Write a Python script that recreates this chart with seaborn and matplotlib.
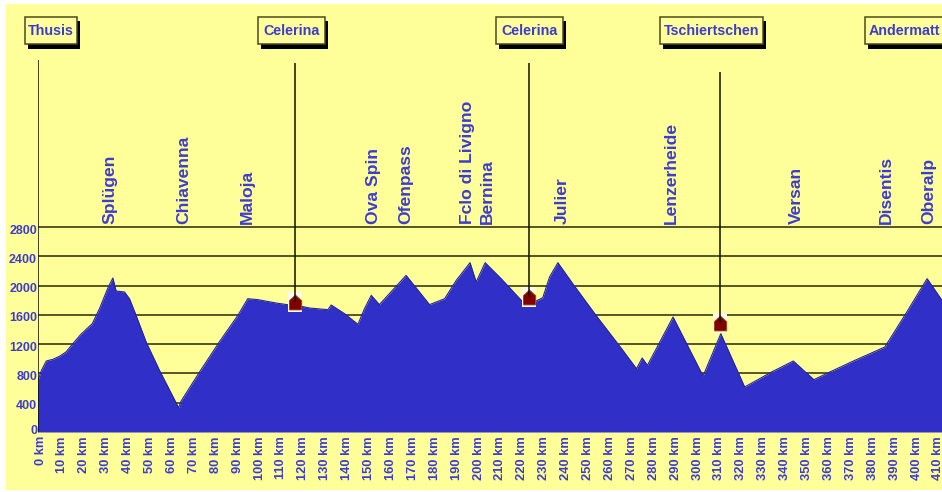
import numpy as np
import pandas as pd
import seaborn as sns
import matplotlib
matplotlib.use('Agg')
import matplotlib.pyplot as plt
from matplotlib.patches import Rectangle
from matplotlib.transforms import Affine2D

# profilo altimetrico
km = [0, 1.8, 4, 7, 10, 13, 16.8, 19.8, 25, 28.3, 32, 34.4, 35.9, 39.7, 42, 45, 49.6, 55.7, 60, 64.4,
      65.6, 74, 83, 91.5, 96, 100.6, 109, 114, 120.5, 124.2, 132.6, 134.1, 140.2, 146.3, 149.3, 152.4,
      156.1, 168.3, 179, 185.9, 191.2, 197.5, 200.3, 204.4, 211.7, 220.9, 224.2, 227.7, 230.7, 233.8,
      237.6, 244.4, 255, 266.7, 273.5, 276.1, 278.5, 290.2, 303.9, 312, 322.9, 335.2, 345.1, 354.5,
      361.8, 373.2, 386.9, 396, 406.2, 413]
quota = [683, 842, 970, 993, 1034, 1093, 1230, 1334, 1480, 1685, 1958, 2104, 1926, 1913, 1821, 1594, 1230, 842, 592, 332,
         424, 820, 1230, 1594, 1821, 1808, 1762, 1740, 1717, 1694, 1671, 1735, 1617, 1471, 1685, 1867,
         1740, 2140, 1740, 1821, 2072, 2313, 2049, 2313, 2095, 1799, 1770, 1790, 1835, 2117,
         2313, 2026, 1594, 1138, 865, 1011, 911, 1571, 765, 1343, 615, 820, 970, 715,
         820, 979, 1161, 1594, 2095, 1799]

passi = ['Splügen', 'Chiavenna', 'Maloja', 'Ova Spin', 'Ofenpass', 'Fclo di Livigno', 'Bernina',
         'Julier', 'Lenzerheide', 'Versan', 'Disentis', 'Oberalp']
passi_km = [33, 66.8, 96, 153.5, 168.2, 196.5, 205.6, 239.4, 289.6, 346.7, 387.8, 406.8]

tappe = ['Thusis', 'Celerina', 'Celerina', 'Tschiertschen', 'Andermatt']
tappe_km = [0, 117.6, 224.2, 311.8]
tappe_quota = [0, 1776, 1844, 1489]
tappe_top = [5082, 5041, 5041, 4918]

y_ticks = [0, 400, 800, 1200, 1600, 2000, 2400, 2800]
griglia = [400, 800, 1200, 1600, 2000, 2400, 2800]
x_ticks = list(range(0, 420, 10))
x_labels = [f'{k} km' for k in x_ticks]

BLU = '#3030c8'
TESTO = '#3c3cd0'
GIALLO = '#ffff99'
FONT = 'Liberation Sans'

sns.set_theme(style='white')

fig = plt.figure(figsize=(9.42, 4.92), dpi=100, facecolor='white')
# trasformazione in pixel con origine in alto a sinistra
px = Affine2D().scale(1, -1).translate(0, 492)

fig.patches.append(Rectangle((6, 4), 936, 486, transform=px, facecolor=GIALLO, edgecolor='none', zorder=-5))

ax = fig.add_axes([37.5 / 942, (492 - 432) / 492, (942 - 37.5) / 942, (432 - 57) / 492])
ax.patch.set_visible(False)
ax.set_xlim(0, 413)
ax.set_ylim(0, 5123)
sns.despine(ax=ax, left=True, bottom=True)

ax.hlines(griglia, 0, 413, color='#3a3a10', lw=1.2, zorder=1)

df = pd.DataFrame({'km': km, 'quota': quota})
ax.fill_between(df['km'], 0, df['quota'], color=BLU, lw=0, zorder=2)
sns.lineplot(data=df, x='km', y='quota', color='#24249c', lw=0.8, ax=ax, zorder=3, estimator=None, sort=False)

ax.set_xlabel('')
ax.set_ylabel('')

ax.set_xticks(x_ticks)
ax.set_xticklabels(x_labels, rotation=90, family=FONT, fontweight='bold', fontsize=9.3, color=TESTO)
ax.set_yticks(y_ticks)
ax.set_yticklabels(y_ticks, family=FONT, fontweight='bold', fontsize=9, color=TESTO)
ax.tick_params(axis='x', length=0, pad=3)
ax.tick_params(axis='y', length=0, pad=1)

# sposto le etichette di qualche pixel come nell'originale
for lab in ax.get_xticklabels():
    lab.set_transform(lab.get_transform() + Affine2D().translate(3, 0))
for lab in ax.get_yticklabels()[1:]:
    lab.set_transform(lab.get_transform() + Affine2D().translate(1, -2))
ax.get_yticklabels()[0].set_transform(ax.get_yticklabels()[0].get_transform() + Affine2D().translate(1, 2))

# linee delle tappe e casette
ax.vlines(tappe_km, tappe_quota, tappe_top, color='#101000', lw=1.1, zorder=6)
casa_box = np.array([(-0.36, -0.5), (0.36, -0.5), (0.36, 0.5), (-0.36, 0.5)])
casa = np.array([(-0.42, -0.5), (0.42, -0.5), (0.42, 0.12), (0, 0.5), (-0.42, 0.12)])
ax.scatter(tappe_km[1:], tappe_quota[1:], marker=casa_box, s=215, color='#fff8ee', lw=0, zorder=4)
ax.scatter(tappe_km[1:], tappe_quota[1:], marker=casa, s=115, color='#800000', edgecolor='#806000', lw=0.6, zorder=5)

# nomi dei passi
for nome, k in zip(passi, passi_km):
    ax.text(k, 2845, nome, rotation=90, ha='center', va='bottom', fontsize=12.6, fontweight='bold',
            family=FONT, color=TESTO, zorder=6)

# riquadri delle tappe
box_x = [(25, 77), (258, 325), (496, 563), (660, 763), (865, 960)]
for nome, (x0, x1) in zip(tappe, box_x):
    fig.patches.append(Rectangle((x0 + 3, 21), x1 - x0, 28, transform=px, facecolor='black', edgecolor='none', zorder=7))
    fig.patches.append(Rectangle((x0, 17), x1 - x0, 27, transform=px, facecolor=GIALLO, edgecolor='#4a4a20', lw=1.1, zorder=8))
    if nome == 'Andermatt':
        fig.text(869, 31, nome, transform=px, ha='left', va='center', family=FONT, fontweight='bold',
                 fontsize=10.3, color=TESTO, zorder=9)
    else:
        fig.text((x0 + x1) / 2, 31, nome, transform=px, ha='center', va='center', family=FONT, fontweight='bold',
                 fontsize=10.3, color=TESTO, zorder=9)

fig.savefig('out.png', dpi=100, facecolor='white')
